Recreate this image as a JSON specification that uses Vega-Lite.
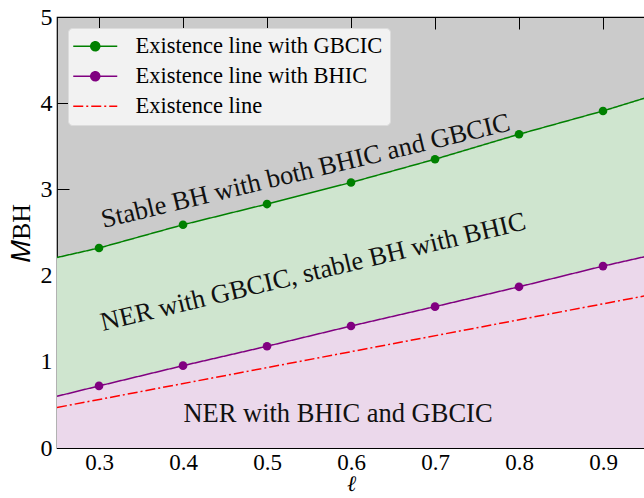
{
  "$schema": "https://vega.github.io/schema/vega-lite/v6.json",
  "width": 588,
  "height": 431,
  "autosize": {"type": "none"},
  "padding": {"left": 57, "top": 17, "right": 0, "bottom": 50},
  "background": "white",
  "config": {
    "view": {"fill": "#cbcbcb", "stroke": "black", "strokeWidth": 1.2},
    "font": "Liberation Serif",
    "axis": {
      "grid": false,
      "domain": false,
      "tickColor": "black",
      "tickWidth": 1,
      "tickSize": -12,
      "labelFont": "Liberation Serif",
      "labelFontSize": 24,
      "labelColor": "black",
      "titleFont": "Liberation Serif",
      "titleColor": "black",
      "titleFontSize": 26,
      "titleFontWeight": "normal"
    }
  },
  "datasets": {
    "lines": [
      {"series": "Existence line with GBCIC", "l": 0.25, "M": 2.21},
      {"series": "Existence line with GBCIC", "l": 0.3, "M": 2.32},
      {"series": "Existence line with GBCIC", "l": 0.4, "M": 2.59},
      {"series": "Existence line with GBCIC", "l": 0.5, "M": 2.83},
      {"series": "Existence line with GBCIC", "l": 0.6, "M": 3.08},
      {"series": "Existence line with GBCIC", "l": 0.7, "M": 3.35},
      {"series": "Existence line with GBCIC", "l": 0.8, "M": 3.64},
      {"series": "Existence line with GBCIC", "l": 0.9, "M": 3.91},
      {"series": "Existence line with GBCIC", "l": 0.95, "M": 4.06},
      {"series": "Existence line with BHIC", "l": 0.25, "M": 0.6},
      {"series": "Existence line with BHIC", "l": 0.3, "M": 0.72},
      {"series": "Existence line with BHIC", "l": 0.4, "M": 0.955},
      {"series": "Existence line with BHIC", "l": 0.5, "M": 1.18},
      {"series": "Existence line with BHIC", "l": 0.6, "M": 1.415},
      {"series": "Existence line with BHIC", "l": 0.7, "M": 1.64},
      {"series": "Existence line with BHIC", "l": 0.8, "M": 1.87},
      {"series": "Existence line with BHIC", "l": 0.9, "M": 2.11},
      {"series": "Existence line with BHIC", "l": 0.95, "M": 2.22},
      {"series": "Existence line", "l": 0.25, "M": 0.47},
      {"series": "Existence line", "l": 0.95, "M": 1.765}
    ],
    "labels": [
      {"label": "Stable BH with both BHIC and GBCIC", "l": 0.546, "M": 3.21, "kind": "tilted"},
      {"label": "NER with GBCIC, stable BH with BHIC", "l": 0.555, "M": 2.04, "kind": "tilted"},
      {"label": "NER with BHIC and GBCIC", "l": 0.5845, "M": 0.4, "kind": "flat"}
    ]
  },
  "resolve": {"axis": {"x": "independent", "y": "independent"}},
  "layer": [
    {
      "data": {"name": "lines"},
      "transform": [{"filter": "datum.series === 'Existence line with GBCIC'"}],
      "mark": {"type": "area", "color": "#cfe5cf", "clip": true},
      "encoding": {
        "x": {"field": "l", "type": "quantitative", "scale": {"domain": [0.25, 0.95], "nice": false, "zero": false},
              "axis": {"orient": "bottom", "values": [0.3, 0.4, 0.5, 0.6, 0.7, 0.8, 0.9], "format": ".1f", "labelFontSize": 23, "labelPadding": 15, "title": "ℓ", "titleFontStyle": "italic", "titleFontSize": 22, "titlePadding": -1}},
        "y": {"field": "M", "type": "quantitative", "scale": {"domain": [0, 5], "nice": false, "zero": false},
              "axis": {"orient": "left", "values": [0, 1, 2, 3, 4, 5], "format": "d", "labelPadding": 17, "title": "𝑀BH", "titlePadding": 6}},
        "y2": {"datum": 0}
      }
    },
    {
      "data": {"name": "lines"},
      "transform": [{"filter": "datum.series === 'Existence line with BHIC'"}],
      "mark": {"type": "area", "color": "#ebd8eb", "clip": true},
      "encoding": {
        "x": {"field": "l", "type": "quantitative",
              "axis": {"orient": "top", "values": [0.3, 0.4, 0.5, 0.6, 0.7, 0.8, 0.9], "labels": false, "title": null}},
        "y": {"field": "M", "type": "quantitative",
              "axis": {"orient": "right", "values": [0, 1, 2, 3, 4, 5], "labels": false, "title": null}},
        "y2": {"datum": 0}
      }
    },
    {
      "data": {"name": "lines"},
      "mark": {"type": "line", "strokeWidth": 1.5, "clip": true},
      "encoding": {
        "x": {"field": "l", "type": "quantitative", "axis": null},
        "y": {"field": "M", "type": "quantitative", "axis": null},
        "color": {"field": "series", "type": "nominal",
                  "scale": {"domain": ["Existence line with GBCIC", "Existence line with BHIC", "Existence line"], "range": ["#008000", "#800080", "#ff0000"]},
                  "legend": {
                    "title": null,
                    "orient": "top-left",
                    "offset": 11,
                    "fillColor": "#f2f2f2",
                    "strokeColor": "#dcdcdc",
                    "cornerRadius": 4,
                    "padding": 7,
                    "labelFont": "Liberation Serif",
                    "labelFontSize": 22.5,
                    "labelColor": "black",
                    "labelOffset": 38,
                    "labelLimit": 400,
                    "symbolSize": 100,
                    "symbolStrokeWidth": 1.5,
                    "rowPadding": 7,
                    "encode": {
                      "symbols": {
                        "update": {
                          "shape": {"signal": "datum.value === 'Existence line' ? 'M-2.6,0L6.2,0' : 'M-2.6,0L6.2,0M2.7,0A0.9,0.9,0,1,1,0.9,0A0.9,0.9,0,1,1,2.7,0Z'"},
                          "fill": {"scale": "color", "field": "value"},
                          "strokeDash": {"signal": "datum.value === 'Existence line' ? [8, 3, 2, 3] : [1, 0]"}
                        }
                      }
                    }
                  }},
        "strokeDash": {"field": "series", "type": "nominal",
                       "scale": {"domain": ["Existence line with GBCIC", "Existence line with BHIC", "Existence line"], "range": [[1, 0], [1, 0], [10, 3, 2, 3]]},
                       "legend": null}
      }
    },
    {
      "data": {"name": "lines"},
      "transform": [{"filter": "datum.series !== 'Existence line' && datum.l > 0.27 && datum.l < 0.93"}],
      "mark": {"type": "point", "filled": true, "size": 75, "opacity": 1},
      "encoding": {
        "x": {"field": "l", "type": "quantitative", "axis": null},
        "y": {"field": "M", "type": "quantitative", "axis": null},
        "color": {"field": "series", "type": "nominal"}
      }
    },
    {
      "data": {"name": "labels"},
      "transform": [{"filter": "datum.kind === 'tilted'"}],
      "mark": {"type": "text", "angle": -13.5, "font": "Liberation Serif", "fontSize": 26.5, "color": "#111111", "align": "center", "baseline": "middle"},
      "encoding": {
        "x": {"field": "l", "type": "quantitative", "axis": null},
        "y": {"field": "M", "type": "quantitative", "axis": null},
        "text": {"field": "label"}
      }
    },
    {
      "data": {"name": "labels"},
      "transform": [{"filter": "datum.kind === 'flat'"}],
      "mark": {"type": "text", "font": "Liberation Serif", "fontSize": 26.5, "color": "#111111", "align": "center", "baseline": "middle"},
      "encoding": {
        "x": {"field": "l", "type": "quantitative", "axis": null},
        "y": {"field": "M", "type": "quantitative", "axis": null},
        "text": {"field": "label"}
      }
    }
  ]
}
